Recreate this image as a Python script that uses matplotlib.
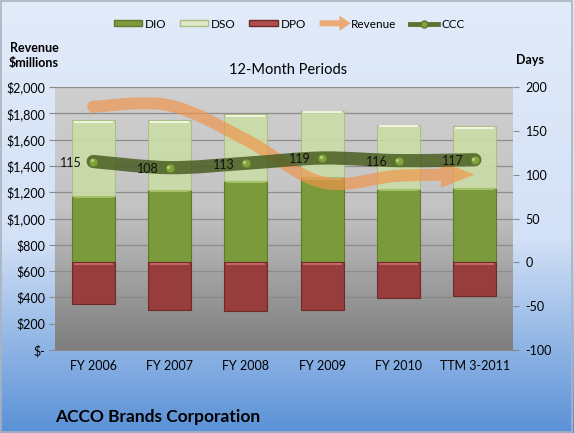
import numpy as np
import matplotlib
matplotlib.use("Agg")
import matplotlib.pyplot as plt
from matplotlib.path import Path
from matplotlib.patches import PathPatch, Patch, FancyArrow, Rectangle, Polygon
from matplotlib.lines import Line2D
from matplotlib.legend_handler import HandlerPatch
from matplotlib.colors import to_rgb
from matplotlib.transforms import IdentityTransform

# ---------------- data ----------------
categories = ["FY 2006", "FY 2007", "FY 2008", "FY 2009", "FY 2010", "TTM 3-2011"]
dio = [76, 83, 93, 97, 84, 85]
dso = [86, 79, 76, 76, 73, 70]
dpo = [47, 54, 56, 54, 41, 38]
ccc = [115, 108, 113, 119, 116, 117]
revenue = [1850, 1860, 1600, 1275, 1325, 1335]
rev_ticks = [0, 200, 400, 600, 800, 1000, 1200, 1400, 1600, 1800, 2000]
day_ticks = [-100, -50, 0, 50, 100, 150, 200]

# ---------------- style ----------------
plt.rcParams['font.family'] = ['Lato', 'DejaVu Sans']
C_DIO = '#7b9a3c'
C_DSO = '#cbdca6'
C_DPO = '#973d3b'
C_REV = '#f0944a'
C_CCC = '#4a5e22'

W, H = 574, 433
DPI = 100
fig = plt.figure(figsize=(W / DPI, H / DPI), dpi=DPI)

# figure background gradient
bg = fig.add_axes([0, 0, 1, 1], zorder=-10)
top = np.array(to_rgb('#e2ebfa'))
mid = np.array(to_rgb('#d3e1f6'))
bot = np.array(to_rgb('#5a91d7'))
n = 300
t = np.linspace(0, 1, n)
cols = np.zeros((n, 1, 3))
for i, v in enumerate(t):
    if v < 0.55:
        cols[i, 0] = top + (mid - top) * (v / 0.55)
    else:
        cols[i, 0] = mid + (bot - mid) * ((v - 0.55) / 0.45)
bg.imshow(cols, aspect='auto', extent=[0, 1, 0, 1])
bg.add_patch(Rectangle((0.002, 0.003), 0.995, 0.994, fill=False, ec='#a9b3bf', lw=1.2,
                       transform=bg.transAxes))
bg.set_xlim(0, 1); bg.set_ylim(0, 1)
bg.axis('off')

# main axes
ax = fig.add_axes([55 / W, 1 - 350 / H, 458 / W, 263 / H])
ax.set_facecolor('none')
pt = np.array(to_rgb('#cfcfcf'))
pm = np.array(to_rgb('#c4c4c4'))
pb = np.array(to_rgb('#7e7e7e'))
pc = np.zeros((n, 1, 3))
for i, v in enumerate(t):
    if v < 0.45:
        pc[i, 0] = pt + (pm - pt) * (v / 0.45)
    else:
        pc[i, 0] = pm + (pb - pm) * ((v - 0.45) / 0.55)
ax.imshow(pc, aspect='auto', extent=[0, 1, 0, 1], transform=ax.transAxes, zorder=0)

x = np.arange(len(categories))
ax.set_xlim(-0.5, len(categories) - 0.5)
ax.set_ylim(0, 2000)
ax.set_yticks(rev_ticks)
ax.set_yticklabels(['$-' if v == 0 else '${:,}'.format(v) for v in rev_ticks])
ax.set_xticks(x)
ax.set_xticklabels(categories)
ax.tick_params(axis='x', length=0, pad=7, labelsize=9)
ax.tick_params(axis='y', length=4, color='#8a8a8a', labelsize=9, pad=3)
ax.grid(axis='y', color='#8c8c8c', lw=0.9, zorder=1)
for s in ['top', 'left', 'right']:
    ax.spines[s].set_visible(False)
ax.spines['bottom'].set_color('#8c8c8c')

ax2 = ax.twinx()
ax2.set_ylim(-100, 200)
ax2.set_yticks(day_ticks)
ax2.set_yticklabels([str(v) for v in day_ticks])
ax2.tick_params(axis='y', length=4, color='#8a8a8a', labelsize=9, pad=5)
for s in ['top', 'left', 'right', 'bottom']:
    ax2.spines[s].set_visible(False)

bw = 0.56
dio_a = np.array(dio); dso_a = np.array(dso); dpo_a = np.array(dpo)
ax2.bar(x, dio_a, bw, color=C_DIO, edgecolor='#5f7a2c', lw=0.8, zorder=3)
ax2.bar(x, dso_a, bw, bottom=dio_a, color=C_DSO, alpha=0.9, edgecolor='#a9bd82', lw=0.8, zorder=3)
ax2.bar(x, -dpo_a, bw, color=C_DPO, edgecolor='#6f2a28', lw=0.8, zorder=3)
# bevel highlights
ax2.bar(x, [2.5] * len(x), bw * 0.92, bottom=dio_a - 3, color='#a5c067', lw=0, zorder=4)
ax2.bar(x, [2.5] * len(x), bw * 0.92, bottom=dio_a + dso_a - 3, color='#eef4df', lw=0, zorder=4)
ax2.bar(x, [2.5] * len(x), bw * 0.92, bottom=[-3] * len(x), color='#c46563', lw=0, zorder=4)


def bezier_ctrl(xs, ys):
    """Catmull-Rom style control points for a smoothed line through the data."""
    pts = np.column_stack([xs, ys]).astype(float)
    m = len(pts)
    segs = []
    for i in range(m - 1):
        p0 = pts[max(i - 1, 0)]
        p1 = pts[i]
        p2 = pts[i + 1]
        p3 = pts[min(i + 2, m - 1)]
        segs.append((p1, p1 + (p2 - p0) / 6.0, p2 - (p3 - p1) / 6.0, p2))
    return segs


def smooth_path(xs, ys):
    segs = bezier_ctrl(xs, ys)
    verts = [segs[0][0]]
    codes = [Path.MOVETO]
    for s in segs:
        verts += [s[1], s[2], s[3]]
        codes += [Path.CURVE4] * 3
    return Path(verts, codes)


def arrow_outline(xs, ys, trans, half_w=6.0, head_len=34.0, head_hw=13.0):
    """Outline (in pixels) of a thick curved arrow along the smoothed line."""
    segs = bezier_ctrl(xs, ys)
    tt = np.linspace(0, 1, 40)[:, None]
    pts = []
    for k, (a, b, c, d) in enumerate(segs):
        a, b, c, d = trans.transform(np.array([a, b, c, d]))
        curve = ((1 - tt) ** 3) * a + 3 * ((1 - tt) ** 2) * tt * b + 3 * (1 - tt) * tt ** 2 * c + tt ** 3 * d
        pts.append(curve if k == 0 else curve[1:])
    pts = np.vstack(pts)
    seg_len = np.hypot(*np.diff(pts, axis=0).T)
    s = np.concatenate([[0], np.cumsum(seg_len)])
    s_base = s[-1] - head_len
    j = np.searchsorted(s, s_base)
    f = (s_base - s[j - 1]) / (s[j] - s[j - 1])
    base = pts[j - 1] + f * (pts[j] - pts[j - 1])
    shaft = np.vstack([pts[:j], base])
    tip = pts[-1]
    tang = np.gradient(shaft, axis=0)
    tang /= np.hypot(tang[:, 0], tang[:, 1])[:, None]
    nrm = np.column_stack([-tang[:, 1], tang[:, 0]])
    left = shaft + nrm * half_w
    right = shaft - nrm * half_w
    dvec = (tip - base) / np.hypot(*(tip - base))
    nb = np.array([-dvec[1], dvec[0]])
    head = np.array([base + nb * head_hw, tip, base - nb * head_hw])
    th = np.linspace(np.pi, 0, 20)[:, None]
    cap = shaft[0] + half_w * (np.cos(th) * nrm[0] + np.sin(th) * (-tang[0]))
    return np.vstack([left, head, right[::-1], cap])


# revenue arrow (values on the left axis)
outline = arrow_outline(x, revenue, ax.transData)
ax2.add_artist(Polygon(outline, closed=True, transform=IdentityTransform(),
                       facecolor=C_REV, edgecolor='none', alpha=0.68, zorder=5))

# CCC smoothed band
ccc_path = smooth_path(x, ccc)
ax2.add_patch(PathPatch(ccc_path, fill=False, ec=C_CCC, lw=9.5, alpha=0.85,
                        capstyle='round', zorder=6))
ax2.plot(x, ccc, 'o', ms=6.5, color='#7fa23a', mec='#5c7a26', mew=0.6, zorder=7)
ax2.plot(x - 0.02, np.array(ccc) + 1.3, 'o', ms=2.4, color='#b3cf78', mew=0, zorder=7)
for xi, v in zip(x, ccc):
    ax2.annotate(str(v), (xi, v), xytext=(-8, -1), textcoords='offset points',
                 ha='right', va='center', fontsize=9, color='#111111', zorder=8)
ax2.set_ylim(-100, 200)


# legend
class ArrowHandler(HandlerPatch):
    def create_artists(self, legend, orig_handle, xdescent, ydescent, width, height,
                       fontsize, trans):
        a = FancyArrow(-xdescent, height / 2 - ydescent, width * 1.1, 0,
                       width=height * 0.95, head_width=height * 2.4,
                       head_length=width * 0.4, length_includes_head=True,
                       color=C_REV, alpha=0.75, lw=0)
        a.set_transform(trans)
        return [a]


h_dio = Patch(facecolor=C_DIO, edgecolor='#5f7a2c')
h_dso = Patch(facecolor='#dfe9c8', edgecolor='#a9bd82')
h_dpo = Patch(facecolor='#b0504e', edgecolor='#6f2a28')
h_rev = Patch(facecolor=C_REV)
h_ccc = Line2D([], [], color='#5c7230', lw=3.5, marker='o', ms=5, mfc='#7fa23a', mec='#5c7a26')
fig.legend([h_dio, h_dso, h_dpo, h_rev, h_ccc], ['DIO', 'DSO', 'DPO', 'Revenue', 'CCC'],
           loc='center', bbox_to_anchor=(289 / W, 1 - 24 / H), ncol=5, frameon=False,
           fontsize=8.5, handlelength=2.4, handleheight=0.45, columnspacing=1.15,
           handletextpad=0.25, handler_map={h_rev: ArrowHandler()})

# texts
fig.text(34 / W, 1 - 56 / H, 'Revenue\n$millions', ha='center', va='center',
         fontsize=9, fontweight='bold', linespacing=1.3)
fig.text(530 / W, 1 - 60 / H, 'Days', ha='center', va='center', fontsize=9,
         fontweight='bold')
fig.text(288 / W, 1 - 70 / H, '12-Month Periods', ha='center', va='center',
         fontsize=10.5)
fig.text(55 / W, 1 - 417 / H, 'ACCO Brands Corporation', ha='left', va='center',
         fontsize=12.5, fontweight='bold')

fig.savefig('out.png', dpi=DPI)
